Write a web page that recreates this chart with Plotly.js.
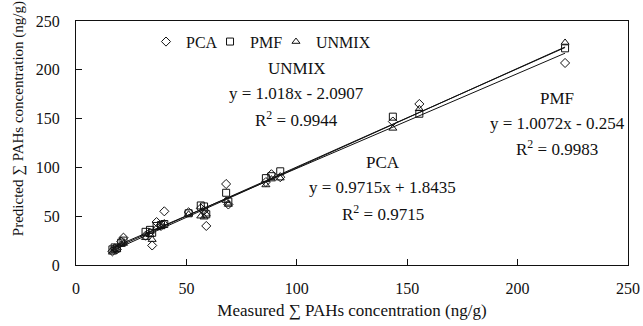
<!DOCTYPE html>
<html>
<head>
<meta charset="utf-8">
<script src="https://cdn.plot.ly/plotly-3.0.1.min.js"></script>
<style>html,body{margin:0;padding:0;background:#fff}#chart{width:643px;height:326px}</style>
</head>
<body>
<div id="chart"></div>
<script>
const measured = [16.5, 17.5, 18.5, 20.5, 21.5, 31.5, 33.5, 34.5, 36.5, 38.5, 40, 51, 56.5, 58, 59, 68, 69, 86, 88.5, 92.5, 143.5, 155.5, 221.5];
const pca      = [14, 17, 16, 24, 28, 30, 33, 20, 44, 40, 55, 54, 58, 56, 40, 83, 62, 85, 93, 90, 147, 165, 207];
const pmf      = [16, 18, 17, 23, 25, 34, 36, 33, 40, 41, 42, 53, 61, 60, 52, 74, 65, 89, 91, 96, 152, 155, 222];
const unmix    = [13, 15, 16, 21, 22, 28, 31, 26, 38, 39, 43, 52, 50, 49, 52, 66, 62, 82, 88, 89, 140, 160, 228];
const fits = {
  PCA:   {slope: 0.9715, intercept: 1.8435, r2: 0.9715},
  PMF:   {slope: 1.0072, intercept: -0.254, r2: 0.9983},
  UNMIX: {slope: 1.018,  intercept: -2.0907, r2: 0.9944}
};
const fitRange = [16, 221.5];
const xTitle = 'Measured \u2211 PAHs concentration (ng/g)';
const yTitle = 'Predicted \u2211 PAHs concentration (ng/g)';

const font = "Liberation Serif, Times New Roman, serif";
const mk = (sym) => ({symbol: sym, size: 7, color: '#111', line: {color: '#111', width: 1}});

const traces = [
  {x: measured, y: pca, name: 'PCA', mode: 'markers', type: 'scatter', marker: mk('diamond-open'), legend: 'legend'},
  {x: measured, y: pmf, name: 'PMF', mode: 'markers', type: 'scatter', marker: mk('square-open'), legend: 'legend2'},
  {x: measured, y: unmix, name: 'UNMIX', mode: 'markers', type: 'scatter', marker: mk('triangle-up-open'), legend: 'legend3'}
];
for (const k of Object.keys(fits)) {
  const f = fits[k];
  traces.push({x: fitRange, y: fitRange.map(v => f.slope * v + f.intercept), mode: 'lines', type: 'scatter',
    showlegend: false, line: {color: '#111', width: 1}, hoverinfo: 'skip'});
}

const fmt = (f) => 'y = ' + f.slope + 'x ' + (f.intercept < 0 ? '- ' : '+ ') + Math.abs(f.intercept);
const ann = [];
function block(name, x, y0) {
  const f = fits[name];
  const lines = [name, fmt(f), 'R<sup>2</sup> = ' + f.r2];
  const dy = [0, 25, 50];
  lines.forEach((t, i) => ann.push({x: x, y: y0, xref: 'x', yref: 'y', text: t, showarrow: false,
    yshift: -dy[i], font: {family: font, size: 17, color: '#111'}}));
}
block('UNMIX', 100, 201);
block('PMF', 218, 171);
block('PCA', 139, 105);
ann.push({xref: 'paper', yref: 'paper', x: -0.105, y: 0.598, xanchor: 'center', yanchor: 'middle',
  text: yTitle, textangle: -90, showarrow: false, font: {family: font, size: 15, color: '#111'}});

const legBase = {orientation: 'h', y: 0.985, xanchor: 'left', yanchor: 'top',
  bgcolor: 'rgba(0,0,0,0)', font: {family: font, size: 16}, itemwidth: 30, tracegroupgap: 0};

const layout = {
  width: 643, height: 326,
  margin: {l: 76, r: 15, t: 21, b: 61},
  paper_bgcolor: '#fff', plot_bgcolor: '#fff',
  font: {family: font, size: 16, color: '#111'},
  showlegend: true,
  legend: Object.assign({}, legBase, {x: 0.1268}),
  legend2: Object.assign({}, legBase, {x: 0.2428}),
  legend3: Object.assign({}, legBase, {x: 0.3623}),
  xaxis: {range: [0, 250], dtick: 50, ticks: 'inside', ticklen: 6, tickcolor: '#111',
    showline: true, linecolor: '#111', linewidth: 1, mirror: true, showgrid: false, zeroline: false,
    ticklabelstandoff: 9, tickfont: {family: font, size: 16},
    title: {text: xTitle, font: {family: font, size: 17}, standoff: 7}},
  yaxis: {range: [0, 250], dtick: 50, ticks: 'inside', ticklen: 6, tickcolor: '#111',
    showline: true, linecolor: '#111', linewidth: 1, mirror: true, showgrid: false, zeroline: false,
    ticklabelstandoff: 12, tickfont: {family: font, size: 16}},
  annotations: ann
};
Plotly.newPlot('chart', traces, layout, {displayModeBar: false, staticPlot: true});
</script>
</body>
</html>
